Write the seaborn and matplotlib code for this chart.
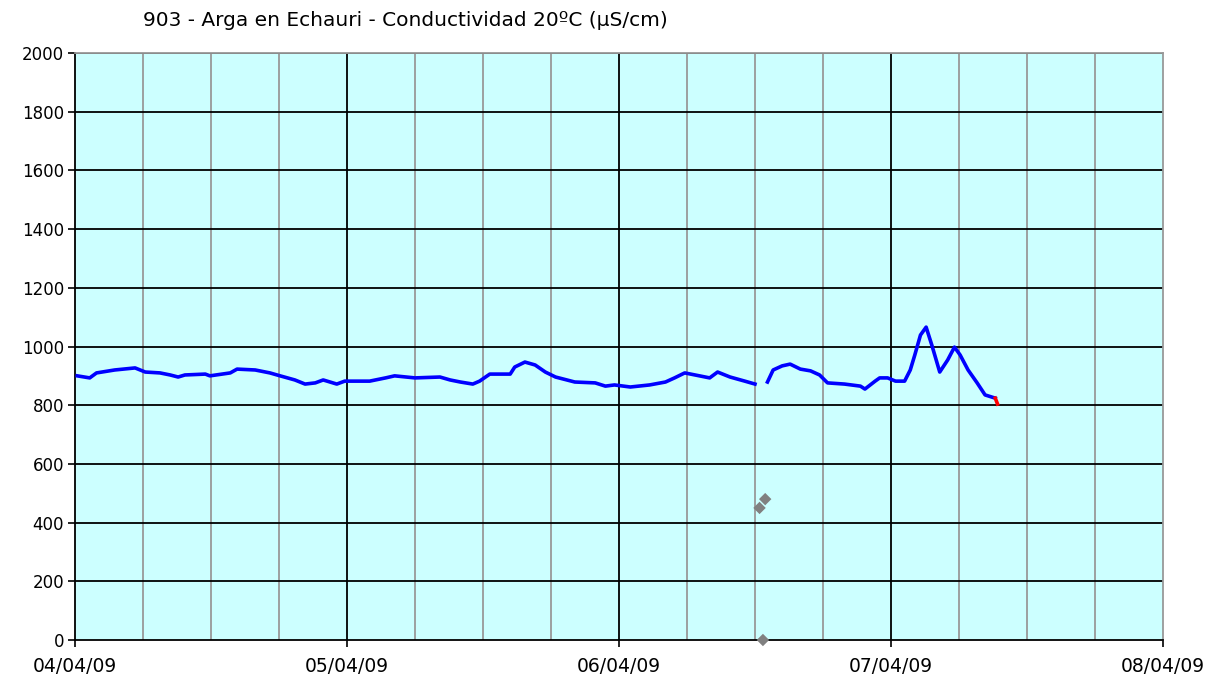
import numpy as np
import pandas as pd
import matplotlib.pyplot as plt
import matplotlib.dates as mdates
import seaborn as sns

# hours since 04/04/09 00:00 and conductivity values
hours_a = [0.2, 1.3, 1.9, 3.5, 5.3, 6.2, 7.5, 8.4, 9.1, 9.7, 11.5, 11.9, 13.7, 14.3,
           15.9, 17.2, 18.1, 19.4, 20.3, 21.2, 21.9, 22.5, 23.1, 23.8, 26.0, 27.4,
           28.2, 30.0, 32.2, 33.1, 34.0, 35.1, 35.7, 36.6, 38.4, 38.8, 39.7, 40.6,
           41.5, 42.4, 44.1, 45.9, 46.8, 47.6, 49.0, 50.7, 52.1, 52.9, 53.8, 55.1,
           56.0, 56.7, 57.8, 59.1, 60.0]
cond_a = [900, 893, 910, 920, 927, 913, 910, 903, 896, 903, 906, 900, 910, 923,
          920, 910, 900, 886, 872, 876, 886, 879, 872, 882, 882, 893,
          900, 893, 896, 886, 879, 872, 882, 906, 906, 930, 947, 937,
          913, 896, 879, 876, 865, 869, 862, 869, 879, 893, 910, 900,
          893, 913, 896, 882, 872]

hours_b = [61.1, 61.6, 62.4, 63.1, 64.0, 64.9, 65.7, 66.4, 67.9, 69.3, 69.7, 70.6,
           71.0, 71.7, 72.4, 73.2, 73.7, 74.1, 74.6, 75.1, 75.6, 76.3, 77.0, 77.6,
           78.1, 78.8, 79.6, 80.3, 81.2]
cond_b = [879, 920, 934, 940, 923, 917, 903, 876, 872, 865, 855, 882,
          893, 893, 882, 882, 920, 971, 1039, 1066, 1005, 913, 954, 998,
          971, 920, 876, 835, 824]

hours_red = [81.2, 81.4]
cond_red = [824, 804]

hours_pts = [60.4, 60.9, 60.7]
cond_pts = [450, 480, 0]

t0 = pd.Timestamp('2009-04-04')
def to_df(h, v):
    return pd.DataFrame({'time': t0 + pd.to_timedelta(h, unit='h'), 'value': v})

df_a = to_df(hours_a, cond_a)
df_b = to_df(hours_b, cond_b)
df_red = to_df(hours_red, cond_red)
df_pts = to_df(hours_pts, cond_pts)

fig = plt.figure(figsize=(12.21, 6.8), dpi=100)
ax = fig.add_axes([75/1221, 40/680, (1163-75)/1221, (640-53)/680])
ax.set_facecolor('#ccffff')

# grid: gray every 6 h, black at each day and every 200 units
for k in range(1, 16):
    x = t0 + pd.Timedelta(hours=6*k)
    ax.axvline(x, color='black' if k % 4 == 0 else '#999999', lw=1.3, zorder=1)
for yv in range(200, 2001, 200):
    ax.axhline(yv, color='black', lw=1.3, zorder=1)

sns.lineplot(data=df_a, x='time', y='value', color='#0000ff', lw=2.6, ax=ax, zorder=3)
sns.lineplot(data=df_b, x='time', y='value', color='#0000ff', lw=2.6, ax=ax, zorder=3)
sns.lineplot(data=df_red, x='time', y='value', color='#ff0000', lw=2.6, ax=ax, zorder=3)
sns.scatterplot(data=df_pts, x='time', y='value', color='#808080', marker='D', s=40,
                edgecolor='none', ax=ax, zorder=4, clip_on=False)

ax.set_xlim(t0, t0 + pd.Timedelta(days=4))
ax.set_ylim(0, 2000)
ax.set_yticks(range(0, 2001, 200))
ax.xaxis.set_major_locator(mdates.DayLocator())
ax.xaxis.set_major_formatter(mdates.DateFormatter('%d/%m/%y'))
ax.tick_params(axis='both', colors='black', length=5, width=1.2)
ax.tick_params(axis='x', labelsize=13.5, pad=7)
ax.tick_params(axis='y', labelsize=12, pad=3)
ax.set_xlabel('')
ax.set_ylabel('')

for s in ['left', 'bottom']:
    ax.spines[s].set_color('black')
    ax.spines[s].set_linewidth(1.3)
for s in ['top', 'right']:
    ax.spines[s].set_color('#999999')
    ax.spines[s].set_linewidth(1.3)

fig.text(143/1221, 1 - 21/680, '903 - Arga en Echauri - Conductividad 20ºC (µS/cm)',
         fontsize=14.5, va='center', ha='left')

fig.savefig('out.png', dpi=100)
